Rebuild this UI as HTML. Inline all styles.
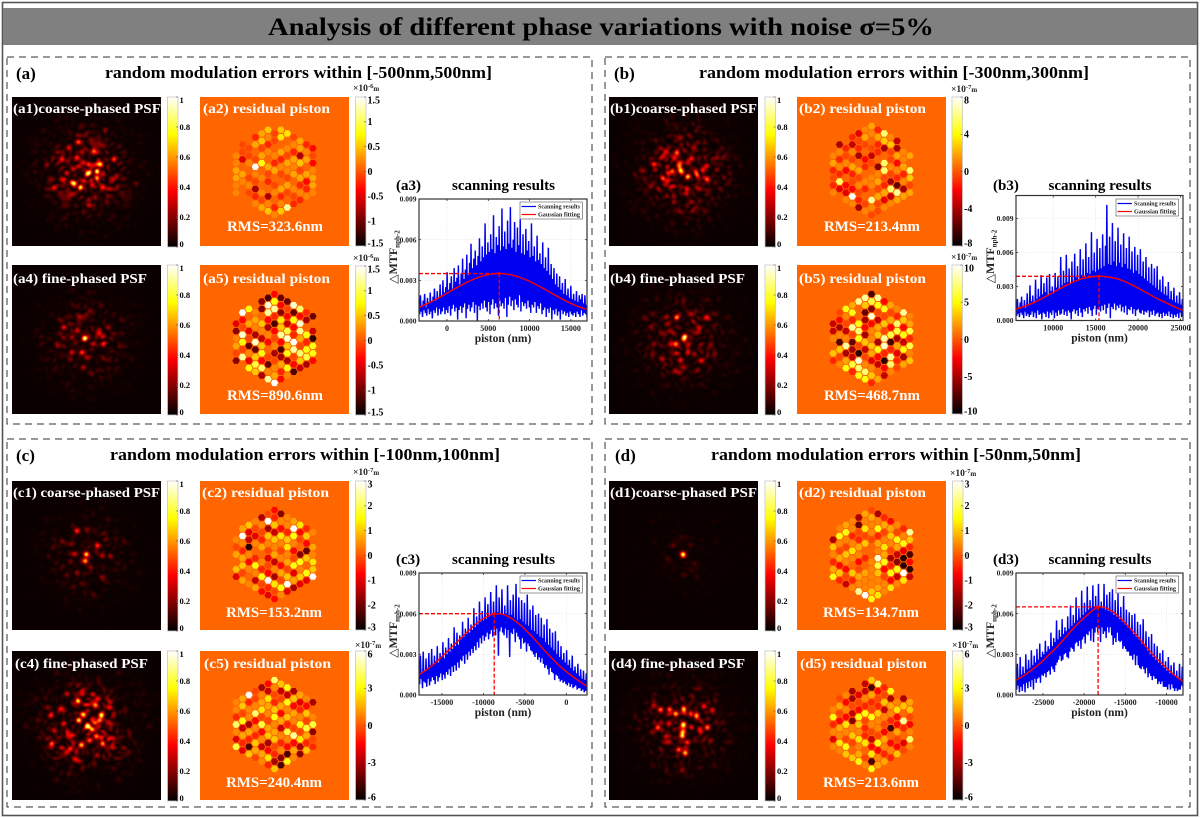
<!DOCTYPE html>
<html lang="en">
<head>
<meta charset="utf-8">
<title>Analysis of different phase variations with noise</title>
<style>
html,body{margin:0;padding:0;background:#fff;}
#figure{position:relative;width:1200px;height:818px;overflow:hidden;background:#fff;filter:blur(0.3px);}
#figure canvas{position:absolute;display:block;}
#figure svg{position:absolute;left:0;top:0;}
text{font-family:"Liberation Serif","DejaVu Serif","Noto Serif CJK SC",serif;font-weight:bold;}
</style>
</head>
<body>
<div id="figure">
<svg id="plot" width="1200" height="818" viewBox="0 0 1200 818" xmlns="http://www.w3.org/2000/svg">
<defs>
<linearGradient id="hotGrad" x1="0" y1="1" x2="0" y2="0">
<stop offset="0" stop-color="#000000"/><stop offset="0.05" stop-color="#220000"/><stop offset="0.375" stop-color="#ff0000"/><stop offset="0.75" stop-color="#ffff00"/><stop offset="1" stop-color="#ffffff"/>
</linearGradient>
</defs>
<rect x="2.5" y="2.5" width="1195" height="813" fill="none" stroke="#555" stroke-width="1.6"/>
<rect x="3" y="8" width="1194" height="37" fill="#808080"/>
<text x="268" y="35" font-size="25" textLength="666" lengthAdjust="spacingAndGlyphs" fill="#000">Analysis of different phase variations with noise σ=5%</text>
<rect x="7" y="57" width="585" height="367" fill="none" stroke="#333" stroke-width="1" stroke-dasharray="7 5"/>
<rect x="605" y="57" width="585" height="367" fill="none" stroke="#333" stroke-width="1" stroke-dasharray="7 5"/>
<rect x="7" y="439" width="585" height="368" fill="none" stroke="#333" stroke-width="1" stroke-dasharray="7 5"/>
<rect x="605" y="439" width="585" height="368" fill="none" stroke="#333" stroke-width="1" stroke-dasharray="7 5"/>
<text x="16" y="79" font-size="17" fill="#000">(a)</text>
<text x="105" y="78" font-size="16.5" textLength="387" lengthAdjust="spacingAndGlyphs" fill="#000">random modulation errors within [-500nm,500nm]</text>
<text x="614" y="79" font-size="17" fill="#000">(b)</text>
<text x="699" y="78" font-size="16.5" textLength="390" lengthAdjust="spacingAndGlyphs" fill="#000">random modulation errors within [-300nm,300nm]</text>
<text x="16" y="461" font-size="17" fill="#000">(c)</text>
<text x="110" y="460" font-size="16.5" textLength="390" lengthAdjust="spacingAndGlyphs" fill="#000">random modulation errors within [-100nm,100nm]</text>
<text x="615" y="461" font-size="17" fill="#000">(d)</text>
<text x="711" y="460" font-size="16.5" textLength="370" lengthAdjust="spacingAndGlyphs" fill="#000">random modulation errors within [-50nm,50nm]</text>
</svg>
</div>
<script>
// ---------- scan chart data (all ΔMTF values in units of 0.001) ----------
const yTickLabels = ['0.000','0.003','0.006','0.009'];
const yTickValues = [0,3,6,9];

const xTicksA3 = [0,5000,10000,15000];
const rangeA3 = [-3390,16950];
const scanA3 = [1.2,0.5,1.9,0.7,1.1,0.3,1.5,0.8,2.0,0.6,1.0,0.4,1.7,0.9,1.3,0.5,2.1,0.7,1.4,0.2,
1.8,0.8,2.4,0.6,1.5,1.0,2.2,0.4,1.7,0.9,2.7,0.5,1.9,0.7,3.0,1.0,2.1,0.5,2.5,0.8,
3.6,0.6,2.3,1.1,2.8,0.4,3.3,0.9,2.4,1.2,3.9,0.7,2.9,1.0,3.2,0.1,4.1,0.8,2.7,1.1,
3.5,0.6,4.6,1.0,3.1,1.3,3.8,0.2,4.9,0.9,3.4,1.2,4.3,0.7,5.7,1.0,3.9,1.4,4.6,0.6,
5.2,1.2,4.1,0.0,4.8,1.1,6.1,0.8,4.4,1.3,5.5,0.9,4.7,1.5,7.2,1.0,4.9,0.7,5.8,1.4,
5.1,0.5,6.4,1.2,5.3,1.6,7.8,0.9,5.0,1.3,6.2,1.0,5.6,0.4,7.0,1.5,5.2,1.1,8.3,1.3,
5.5,0.9,6.6,1.7,5.3,0.3,7.4,1.2,5.7,1.8,8.4,1.1,5.4,1.5,6.0,0.8,7.3,1.6,5.1,1.2,
6.9,1.0,5.6,1.9,7.5,0.7,5.0,1.4,6.4,1.1,4.9,1.3,6.8,0.9,5.2,1.5,5.9,1.0,4.7,0.6,
7.2,1.2,4.8,1.0,5.5,1.4,4.4,0.6,6.3,1.1,4.5,0.9,5.0,1.3,4.2,0.5,5.8,0.8,3.9,1.0,
4.7,0.3,3.7,0.9,5.4,0.6,3.4,1.0,4.2,0.1,3.1,0.8,3.9,0.5,2.7,0.9,3.5,0.4,2.5,0.7,
3.3,0.1,2.3,0.8,2.8,0.5,2.0,0.7,3.1,0.4,1.9,0.6,2.4,0.3,1.7,0.7,2.6,0.5,1.6,0.4,
2.0,0.6,1.5,0.3,2.2,0.7,1.4,0.5,1.9,0.3,1.6,0.8,2.0,0.4,1.3,0.6,1.9,0.5,1.2,0.3];
const fitA3 = [1.00,1.28,1.60,1.94,2.29,2.63,2.94,3.20,3.39,3.49,3.49,3.40,3.22,2.97,2.67,2.33,1.98,1.64,1.32,1.06,0.85];
const peakA3 = [6330,3.5];

const xTicksB3 = [10000,15000,20000,25000];
const rangeB3 = [5610,25300];
const scanB3 = [1.2,0.4,1.9,0.6,1.0,0.3,1.6,0.7,2.1,0.5,1.3,0.2,1.8,0.8,1.1,0.4,2.4,0.6,1.4,0.3,
3.1,0.5,1.7,0.8,2.2,0.3,1.5,0.7,3.6,0.2,1.9,0.9,2.8,0.5,2.1,0.6,4.0,0.1,2.3,0.7,
3.3,0.6,2.5,0.3,3.8,0.8,2.2,0.2,4.1,0.7,2.6,0.5,3.0,0.9,2.4,0.2,4.2,0.7,2.9,0.4,
3.9,0.9,2.8,0.5,5.6,0.6,3.1,1.0,4.4,0.5,3.3,0.8,5.8,0.4,3.4,0.9,4.6,0.7,3.2,0.1,
5.2,0.8,3.5,1.0,5.9,0.6,3.8,0.9,4.8,0.4,3.6,1.1,6.3,0.7,4.0,0.3,5.4,1.0,3.9,0.8,
6.8,1.1,4.2,0.6,5.6,1.2,4.1,0.9,7.8,0.4,4.4,1.0,6.0,1.3,4.3,0.5,7.2,1.0,4.5,1.2,
6.4,0.8,4.6,1.3,7.6,0.9,4.8,1.4,6.6,0.6,10.2,1.1,5.0,1.5,7.4,0.2,4.9,1.2,8.6,1.0,
5.2,1.5,7.0,0.9,4.8,1.3,8.2,1.1,5.1,1.4,6.7,0.8,4.7,1.2,7.7,0.7,5.0,1.3,6.4,0.5,
4.6,1.0,7.4,0.9,4.5,1.2,6.1,0.6,4.2,1.0,6.5,0.4,4.4,0.9,5.8,1.0,4.1,0.7,6.3,0.6,
3.9,0.9,5.2,0.5,3.7,0.8,5.6,0.7,3.5,0.9,4.7,0.3,3.3,0.8,5.0,0.5,3.1,0.9,4.6,0.4,
2.9,0.6,4.8,0.7,2.7,0.3,3.6,0.6,2.5,0.2,3.9,0.7,2.3,0.4,3.0,0.6,2.2,0.4,3.4,0.8,
1.9,0.3,2.6,0.6,1.8,0.2,2.9,0.5,1.6,0.3,2.2,0.6,1.5,0.2,2.5,0.7,1.4,0.3,1.9,0.4];
const fitB3 = [1.0,1.25,1.55,1.9,2.3,2.7,3.1,3.45,3.7,3.85,3.9,3.85,3.7,3.45,3.1,2.7,2.3,1.9,1.55,1.2,0.9];
const peakB3 = [15400,3.9];

const xTicksC3 = [-15000,-10000,-5000,0];
const rangeC3 = [-17770,2490];
const scanC3 = [1.9,0.8,2.9,1.2,1.6,0.5,3.2,1.0,1.8,0.9,2.7,0.6,2.0,1.2,3.1,0.7,2.2,1.0,3.4,1.3,
2.3,1.1,2.9,0.8,2.5,1.4,3.6,1.0,2.4,1.3,3.1,1.6,2.8,1.1,3.9,1.5,2.7,1.2,3.5,1.7,
3.0,1.5,4.2,1.9,3.2,1.4,3.8,2.1,3.4,1.7,5.0,2.2,3.6,1.8,4.6,2.4,3.7,2.0,4.4,2.6,
4.1,2.5,5.4,2.9,4.3,2.3,4.9,3.0,4.5,2.6,5.7,3.2,4.6,2.9,5.2,3.4,4.8,3.1,6.4,3.6,
5.0,3.3,5.8,3.9,5.2,3.5,6.9,4.2,5.4,3.8,6.2,4.4,5.5,4.0,7.2,4.3,5.6,4.6,6.7,4.1,
5.8,4.5,7.6,4.8,5.9,4.3,6.9,5.0,6.0,4.4,8.1,4.9,6.1,2.9,7.2,4.7,6.0,5.0,7.8,4.6,
5.9,4.4,6.6,4.9,6.0,4.2,8.1,4.8,5.9,2.8,7.0,4.6,5.9,4.5,7.4,4.9,5.7,3.9,8.2,4.6,
5.5,4.3,7.2,4.1,5.6,3.4,7.0,4.2,5.4,3.8,6.8,3.9,5.2,3.2,7.4,3.8,5.1,3.6,6.3,3.3,
4.8,3.2,6.6,3.0,4.7,2.8,5.9,3.1,4.5,2.6,6.0,2.8,4.3,2.4,5.7,2.7,4.2,2.3,5.2,2.0,
3.9,2.2,5.6,1.9,3.7,1.5,4.9,2.0,3.5,1.7,4.6,1.6,3.3,1.1,4.7,1.5,3.0,1.4,4.0,1.2,
2.8,1.0,3.6,1.1,2.6,0.9,3.1,1.0,2.4,0.8,3.3,0.7,2.2,0.9,2.6,0.6,2.0,0.8,2.9,0.5,
1.8,0.6,2.1,0.7,1.6,0.4,2.3,0.5,1.4,0.5,1.9,0.3,1.2,0.4,1.8,0.2,1.1,0.3,1.6,0.4];
const fitC3 = [1.5,1.9,2.4,3.0,3.6,4.2,4.8,5.35,5.75,5.98,5.95,5.65,5.2,4.6,3.95,3.25,2.6,2.0,1.5,1.05,0.65];
const peakC3 = [-8700,6.0];

const xTicksD3 = [-25000,-20000,-15000,-10000];
const rangeD3 = [-28270,-7990];
const scanD3 = [1.4,0.4,2.3,0.7,1.2,0.2,2.8,0.6,1.5,0.3,2.1,0.8,1.6,0.2,3.0,0.9,1.9,0.5,2.6,1.0,
2.0,0.6,3.3,1.1,2.2,0.4,2.9,1.2,2.4,0.9,3.4,1.2,2.6,1.3,3.8,0.9,2.8,1.5,3.2,1.4,
3.0,1.6,4.0,1.3,3.2,1.7,3.6,1.8,3.4,1.5,4.6,2.1,3.6,1.9,4.2,1.7,3.9,2.2,5.5,2.4,
4.1,2.6,4.8,2.9,4.3,2.5,5.6,2.6,4.5,3.0,5.0,3.1,4.7,2.8,5.8,2.7,4.9,3.2,6.6,3.5,
5.1,3.4,5.9,3.2,5.3,3.8,7.2,3.9,5.5,3.6,6.4,4.0,5.7,3.4,7.7,4.1,5.9,4.3,6.8,3.8,
6.1,4.5,8.0,4.4,6.3,4.7,7.0,4.0,6.4,4.9,8.1,3.9,6.5,4.6,7.3,5.0,6.5,4.6,8.2,4.9,
6.5,3.9,6.9,5.0,6.4,4.5,8.2,4.7,6.3,4.2,7.4,5.0,6.2,4.6,7.6,5.0,6.1,4.4,7.8,3.7,
5.9,4.2,7.0,3.9,5.8,4.6,7.5,4.0,5.6,3.9,6.5,4.0,5.4,3.4,7.3,3.6,5.2,3.4,6.3,3.2,
5.0,3.2,6.1,2.9,4.8,2.9,5.9,2.6,4.5,3.0,6.0,2.2,4.3,2.9,5.4,2.2,4.1,2.0,5.2,1.9,
3.8,2.1,5.6,1.9,3.6,1.6,4.7,2.0,3.3,1.3,4.3,1.6,3.0,1.4,4.5,1.1,2.8,1.4,3.8,1.2,
2.6,1.2,3.6,0.8,2.4,1.0,3.1,0.8,2.2,1.0,3.3,0.6,2.0,0.6,2.5,0.6,1.8,0.4,2.8,0.8,
1.6,0.4,2.2,0.8,1.5,0.5,2.4,0.3,1.4,0.5,1.8,0.3,1.2,0.4,2.3,0.4,1.1,0.7,2.1,0.6];
const fitD3 = [1.1,1.45,1.9,2.4,3.0,3.6,4.3,5.0,5.6,6.15,6.5,6.35,5.95,5.35,4.7,4.0,3.25,2.6,2.0,1.45,1.0];
const peakD3 = [-18300,6.5];

// ---------- residual piston maps: one inner array per segment column, values as tenths of colour-bar half-range ----------
const hexA2 = [[0,1,1,2,2,1,1],[-1,-1,-4,0,2,1,0,0],[0,-1,-1,1,0,-1,1,-1,0],[-2,2,0,-1,10,1,-1,-6,-2,1],[2,3,-1,2,5,0,1,0,1,-1,2],[3,1,-2,1,0,2,-1,-2,0,-6,1,3],[0,-1,-1,0,1,-2,2,0,-1,1,0,-2,1],[3,4,0,2,-2,1,-1,0,2,-2,1,3],[4,0,1,-1,2,1,-1,2,-1,0,8],[-1,1,-2,2,1,2,0,1,-1,-2],[2,2,-6,3,-1,2,-2,1,-2],[-2,1,2,0,2,-3,-2,1],[-3,-1,-3,1,2,2,1]];
const hexA5 = [[0,-4,-7,1,2,-1,-7],[10,-3,-1,9,5,-1,8,0],[5,0,2,-4,-1,-8,1,-4,5],[0,1,2,1,-6,9,-8,3,6,3],[-7,-7,0,3,1,-5,3,5,-3,7,-6],[-9,9,8,-3,-6,1,-3,0,-1,-8,1,8],[-3,5,8,-2,-9,-3,-1,1,-6,-1,1,2,10],[-8,-3,-7,4,3,8,-3,-9,-6,2,-2,-3],[-8,-1,-3,-5,6,9,3,5,-6,5,1],[9,-8,5,-3,-2,10,8,-1,-3,-9],[7,-3,9,8,2,-1,7,3,-5],[-2,-6,0,5,-2,5,6,-6],[-8,0,-5,-10,5,5,-3]];
const hexB2 = [[0,1,2,-2,-1,-2,1],[-6,1,-2,1,-2,7,-4,0],[0,-2,-1,1,-3,0,-3,-4,1],[-2,-5,1,-1,2,-2,-1,-3,10,1],[-4,-1,-2,-6,0,2,-1,1,-1,-2,-6],[1,2,-1,0,-3,-2,0,1,-2,0,-1,1],[2,1,0,-1,-5,-1,0,1,1,0,8,1,-1],[-2,2,-2,-2,0,-7,1,2,-1,2,-1,-1],[7,3,-6,0,7,7,-1,-2,2,-4,1],[1,3,-1,-1,1,-1,-6,7,-5,1],[-5,-6,2,-3,1,-2,-8,8,2],[0,1,1,2,-2,1,-6,2],[0,2,0,7,3,-1,2]];
const hexB5 = [[0,-5,-5,1,0,3,-2],[-1,-3,-6,1,-9,3,-1,1],[5,1,-1,-5,1,8,-6,2,5],[2,5,-2,8,-1,-8,-6,-5,6,-2],[8,0,0,5,7,5,-1,-10,9,7,5],[8,3,-8,-6,-3,-6,3,-5,-1,1,7,5],[-9,6,-7,9,-3,1,1,3,2,-4,1,3,-2],[8,5,-1,-5,2,3,-6,5,-3,-5,0,2],[-3,5,-1,3,-1,8,9,-2,-10,-3,-5],[2,-1,2,-3,6,-9,-2,8,7,1],[1,-2,7,6,-6,2,-4,-2,-1],[8,3,-3,5,-5,5,-6,2],[1,2,6,-2,6,1,3]];
const hexC2 = [[0,1,-1,2,0,3,-4],[2,10,1,-2,2,3,-1,2],[3,-4,-5,-10,1,-3,1,0,1],[1,-1,-4,1,0,-2,5,1,-5,2],[-6,1,-1,-2,2,0,1,-2,5,-1,-3],[-1,10,-6,3,1,-1,-4,-1,-3,10,-2,-4],[-3,-2,3,-5,3,1,2,-5,1,-6,4,-1,-3],[-7,1,-3,4,1,-1,1,-3,2,-1,5,1],[1,1,-2,3,4,1,2,-1,3,10,-4],[2,10,5,1,-3,-1,5,-4,2,-6],[4,-3,-1,0,-7,5,1,3,-4],[-2,3,-3,-8,3,0,5,-4],[1,0,2,1,4,3,10]];
const hexC5 = [[1,1,-2,7,1,-4,6],[2,3,-1,5,-5,2,-2,-4],[10,-2,1,1,-6,2,-2,-9,3],[-1,-1,1,7,-3,1,-2,3,2,-1],[-6,1,2,4,-1,6,-3,1,-5,2,1],[-3,-5,4,2,1,-1,2,3,-6,-3,4,-2],[7,1,-1,-2,3,5,1,2,3,-1,-2,-6,3],[3,-5,-1,2,-3,2,-5,1,-2,1,-7,-9],[5,-5,5,1,3,-2,6,1,-3,-9,5],[-6,3,-3,2,1,-1,8,-3,2,1],[2,-4,-2,1,5,-1,4,-6,-7],[1,-3,3,-1,6,2,-2,3],[-6,0,1,6,-7,-1,-2]];
const hexD2 = [[0,-6,3,1,-2,2,5],[1,5,1,-1,2,-3,3,-2],[2,5,1,-1,3,1,-3,-1,-5],[1,1,-2,1,4,1,0,3,-2,1],[-6,-8,-1,-2,2,1,-3,-1,2,1,8],[2,1,4,-1,3,0,-2,0,2,1,1,10],[-1,2,1,1,-1,0,0,1,1,1,1,3,5],[-6,1,5,-2,2,1,9,6,3,1,2,4],[-2,2,-1,1,4,2,5,-3,-1,1,1],[-3,2,3,1,-1,-6,-2,5,-3,4],[1,-1,5,2,-5,-7,5,-5,1],[-2,1,5,-4,-10,-10,10,4],[8,3,-2,-9,-3,-10,-5]];
const hexD5 = [[0,1,5,-2,1,-4,1],[-1,2,-1,-3,2,1,4,1],[1,-3,1,-3,4,1,-1,5,3],[-6,-6,-1,-5,-7,1,3,-1,0,3],[0,-4,-1,-3,5,3,1,4,1,2,5],[-5,-5,1,-2,5,-1,-2,-2,4,0,-1,1],[3,-9,2,-2,-1,5,1,-1,-5,-3,4,-9,5],[7,-3,-1,-2,3,1,1,-1,5,-3,1,2],[-2,-1,3,-5,1,-1,-3,2,1,-2,2],[5,-6,2,1,-2,-9,0,-3,1,-2],[0,1,4,-3,-3,2,-1,-3,3],[-6,3,0,8,-2,0,-4,-1],[2,3,-1,-3,1,7,1]];

// ---------- PSF speckles: [detector x, detector y, intensity], detector spans -224..224 ----------
const psfA1 = [[40,-23,.9],[5,2,.75],[30,17,.7],[-20,47,.8],[-45,32,.55],[-75,-38,.5],[-55,-73,.4],[-25,-91,.42],[-30,-43,.5],[5,-23,.5],[30,-3,.55],[50,47,.45],[-10,27,.4],[-70,27,.35],[20,-63,.4],[80,-38,.35],[90,12,.28],[-120,-23,.22],[-100,47,.28],[-45,67,.3],[5,99,.33],[25,77,.28],[45,7,.3],[-40,-10,.35],[15,40,.33],[-60,5,.28],[50,-80,.22],[-90,-60,.18],[60,90,.18],[-15,-60,.33]];
const psfA4 = [[-7,-6,.95],[-70,-38,.4],[-15,37,.5],[-45,37,.4],[-20,-68,.3],[40,-18,.35],[-70,-8,.2],[10,-88,.2],[65,-38,.25],[0,52,.3],[-45,-8,.3],[20,12,.3],[-30,-28,.35],[50,12,.2],[-90,12,.15],[-10,82,.2],[80,-18,.15]];
const psfB1 = [[-10,-5,.95],[12,14,.8],[-35,-1,.6],[-22,-58,.6],[22,-40,.5],[-90,-23,.45],[68,-18,.45],[70,22,.35],[10,52,.4],[-55,-63,.3],[-10,-28,.5],[-60,22,.35],[-100,42,.25],[40,47,.3],[-40,47,.3],[-15,117,.2],[100,-43,.2],[-10,-103,.25],[30,-73,.3],[-120,-3,.15],[35,-3,.35],[-30,87,.2]];
const psfB4 = [[3,-10,.95],[-22,-68,.65],[-25,12,.6],[53,62,.45],[-10,62,.4],[-65,57,.35],[-90,12,.25],[45,-38,.35],[-50,-48,.25],[20,-78,.3],[15,12,.3],[70,-68,.2],[-40,12,.35],[-100,-38,.15],[80,12,.2],[-10,97,.2],[30,42,.25],[-60,-18,.2]];
const psfC1 = [[-2,-5,.9],[-5,15,.8],[-30,-75,.5],[32,-31,.4],[-35,-7,.3],[45,-2,.3],[45,63,.2],[-60,58,.15],[-45,-37,.2],[0,-77,.2],[10,33,.2],[60,-52,.12],[-100,-27,.1],[-15,83,.12],[70,3,.1]];
const psfC4 = [[-25,-17,.85],[43,-32,.8],[-28,-75,.75],[25,-62,.7],[15,11,.7],[25,-10,.65],[28,30,.65],[47,53,.7],[-15,58,.6],[-105,53,.5],[-50,68,.5],[-45,28,.5],[-70,-7,.45],[-10,-37,.45],[-110,-32,.35],[10,43,.5],[70,-7,.35],[-80,-52,.4],[-35,98,.35],[70,-72,.35],[80,38,.25],[-60,-97,.3],[-10,-107,.2],[-100,13,.3],[30,88,.3]];
const psfD1 = [[-3,-5,1.0],[-32,-32,.15],[20,-32,.1],[-50,8,.1],[30,23,.1],[-5,-57,.08],[40,63,.07]];
const psfD4 = [[-2,-5,.95],[-5,30,.9],[-25,-37,.8],[-70,-49,.65],[-43,-49,.6],[0,-52,.7],[70,5,.65],[-78,5,.6],[5,80,.65],[-15,71,.6],[35,-32,.5],[60,-59,.5],[10,50,.45],[-45,-7,.4],[-5,18,.7],[-90,-61,.35],[85,-47,.3],[50,18,.35],[-55,33,.3],[20,-37,.4],[-5,133,.25],[-95,18,.25],[80,43,.2]];

// ---------- colour-bar tick labels ----------
const psfBarTicks = [1,0.8,0.6,0.4,0.2,0];
const barTicksA = ['1.5','1','0.5','0','-0.5','-1','-1.5'];
const barTicksB2 = ['8','4','0','-4','-8'];
const barTicksB5 = ['10','5','0','-5','-10'];
const barTicksC2 = ['3','2','1','0','-1','-2','-3'];
const barTicksC5 = ['6','3','0','-3','-6'];

// ---------- rendering ----------
const svg = document.getElementById('plot');
const figure = document.getElementById('figure');
const NS = 'http://www.w3.org/2000/svg';

function el(tag, attrs, parent){
  const n = document.createElementNS(NS, tag);
  for (const k in attrs) n.setAttribute(k, attrs[k]);
  (parent || svg).appendChild(n);
  return n;
}

function hot(t){
  t = Math.max(0, Math.min(1, t));
  const r = Math.min(1, 0.04 + t / 0.375 * 0.96);
  const g = Math.max(0, Math.min(1, (t - 0.375) / 0.375));
  const b = Math.max(0, Math.min(1, (t - 0.75) / 0.25));
  return [Math.round(r * 255), Math.round(g * 255), Math.round(b * 255)];
}

// PSF = far-field interference of the segmented pupil (pistons taken from the matching map) plus the bright speckles
function drawPSF(name, left, top, speckles, gain, pupil){
  const c = document.createElement('canvas');
  
  
  const S = 149;
  c.width = S; c.height = S;
  c.style.left = left + 'px';
  c.style.top = top + 'px';
  figure.insertBefore(c, svg);
  const ctx = c.getContext('2d');
  const img = ctx.createImageData(S, S);
  const toDet = 448 / S;
  const segX = [], segY = [], segP = [];
  pupil.forEach(function(col, ci){
    col.forEach(function(v, ri){
      segX.push(ci - 6);
      segY.push((ri - (col.length - 1) / 2) * 1.155);
      segP.push(v * 1.7 + 0.6);
    });
  });
  const k = 2 * Math.PI / 62;
  for (let j = 0; j < S; j++){
    for (let i = 0; i < S; i++){
      const px = i - S / 2, py = j - S / 2;
      const u = px * toDet, v = py * toDet;
      const env = Math.exp(-(px * px + py * py) / (2 * 27 * 27));
      let re = 0, im = 0;
      for (let s = 0; s < segX.length; s++){
        const ph = k * (px * segX[s] + py * segY[s]) + segP[s];
        re += Math.cos(ph);
        im += Math.sin(ph);
      }
      let val = gain * env * (re * re + im * im) / segX.length;
      for (let n = 0; n < speckles.length; n++){
        const sp = speckles[n];
        const du = u - sp[0], dv = v - sp[1];
        val += sp[2] * 0.85 * Math.exp(-(du * du + dv * dv) / (2 * 30));
      }
      const col = hot(val);
      const p = (j * S + i) * 4;
      img.data[p] = col[0];
      img.data[p + 1] = col[1];
      img.data[p + 2] = col[2];
      img.data[p + 3] = 255;
    }
  }
  ctx.putImageData(img, 0, 0);
}

function hexColor(v){
  const c = hot(0.525 + v * 0.0475);
  return 'rgb(' + c[0] + ',' + c[1] + ',' + c[2] + ')';
}

function drawHex(name, left, top, columns){
  const bg = el('rect', {x: left, y: top, width: 149, height: 149, fill: '#ff6600'});
  
  
  const g = el('g', {});
  
  
  const cx = left + 74.5;
  const cy = top + 73.5;
  const dx = 6.4, dy = 7.4, R = 3.7;
  columns.forEach(function(col, ci){
    const k = ci - 6;
    const x = cx + k * dx;
    const y0 = cy - (col.length - 1) * dy / 2;
    col.forEach(function(v, ri){
      if (v === 0) return;
      const y = y0 + ri * dy;
      const pts = [];
      for (let a = 0; a < 6; a++){
        const th = a * Math.PI / 3;
        pts.push((x + R * Math.cos(th)).toFixed(2) + ',' + (y + R * Math.sin(th)).toFixed(2));
      }
      const h = el('polygon', {points: pts.join(' '), fill: hexColor(v)}, g);
      
      
    });
  });
}

function label(name, x, y, str, size, fill, length){
  const attrs = {x: x, y: y, 'font-size': size, fill: fill};
  if (length){
    attrs.textLength = length;
    attrs.lengthAdjust = 'spacingAndGlyphs';
  }
  const t = el('text', attrs);
  t.textContent = str;
  
  
  return t;
}

function drawBar(name, left, top, height, ticks, fontSize){
  const w = 10.5;
  const r = el('rect', {x: left, y: top, width: w, height: height, fill: 'url(#hotGrad)', stroke: '#c8c8c8', 'stroke-width': 0.8});
  
  
  const n = ticks.length;
  ticks.forEach(function(tk, i){
    const f = i / (n - 1);
    const y = top + f * height;
    const t1 = el('line', {x1: left + w - 2, x2: left + w, y1: y, y2: y, stroke: '#555', 'stroke-width': 0.6});
    
    
    const ly = Math.min(top + height - 3, Math.max(top + 3, y));
    label(name + '-tick-label', left + w + 1.5, ly + fontSize * 0.34, String(tk), fontSize, '#000');
  });
}

function drawExponent(name, x, y, exp){
  const t = el('text', {x: x, y: y, 'font-size': 9.5, fill: '#222'});
  
  
  const a = el('tspan', {}, t);
  a.textContent = '×10';
  const b = el('tspan', {dy: -3, 'font-size': 6.5}, t);
  b.textContent = exp;
  const c = el('tspan', {dy: 3, 'font-size': 7}, t);
  c.textContent = 'm';
}

let clipCount = 0;

function drawChart(id, box, range, xTicks, scan, fit, peak, yMax, heading){
  const xScale = function(v){ return box.l + (v - range[0]) / (range[1] - range[0]) * (box.r - box.l); };
  const yScale = function(v){ return box.b - v / yMax * (box.b - box.t); };

  const g = el('g', {});
  
  

  const bg = el('rect', {x: box.l, y: box.t, width: box.r - box.l, height: box.b - box.t, fill: '#fff'}, g);
  
  

  xTicks.forEach(function(v){
    const gl = el('line', {x1: xScale(v), x2: xScale(v), y1: box.t, y2: box.b, stroke: '#dddddd', 'stroke-width': 0.6, 'stroke-dasharray': '1 1.5'}, g);
    
    
  });
  yTickValues.forEach(function(v){
    const gl = el('line', {x1: box.l, x2: box.r, y1: yScale(v), y2: yScale(v), stroke: '#dddddd', 'stroke-width': 0.6, 'stroke-dasharray': '1 1.5'}, g);
    
    
  });

  clipCount++;
  const cp = el('clipPath', {id: 'clip' + clipCount}, g);
  el('rect', {x: box.l, y: box.t, width: box.r - box.l, height: box.b - box.t}, cp);

  const scanPts = scan.map(function(v, i){
    const px = range[0] + (range[1] - range[0]) * i / (scan.length - 1);
    return xScale(px).toFixed(2) + ',' + yScale(v).toFixed(2);
  }).join(' ');
  const sl = el('polyline', {points: scanPts, fill: 'none', stroke: '#0000f0', 'stroke-width': 1.45, 'stroke-linejoin': 'bevel', 'clip-path': 'url(#clip' + clipCount + ')'}, g);
  
  

  const hd = el('line', {x1: box.l, x2: xScale(peak[0]), y1: yScale(peak[1]), y2: yScale(peak[1]), stroke: '#ff0000', 'stroke-width': 1.3, 'stroke-dasharray': '4 2'}, g);
  
  
  const vd = el('line', {x1: xScale(peak[0]), x2: xScale(peak[0]), y1: yScale(peak[1]), y2: box.b, stroke: '#ff0000', 'stroke-width': 1.3, 'stroke-dasharray': '4 2'}, g);
  
  

  const fitPts = fit.map(function(v, i){
    const px = range[0] + (range[1] - range[0]) * i / (fit.length - 1);
    return [xScale(px), yScale(v)];
  });
  let d = 'M' + fitPts[0][0].toFixed(2) + ' ' + fitPts[0][1].toFixed(2);
  for (let i = 0; i < fitPts.length - 1; i++){
    const p0 = fitPts[Math.max(0, i - 1)], p1 = fitPts[i], p2 = fitPts[i + 1], p3 = fitPts[Math.min(fitPts.length - 1, i + 2)];
    d += 'C' + (p1[0] + (p2[0] - p0[0]) / 6).toFixed(2) + ' ' + (p1[1] + (p2[1] - p0[1]) / 6).toFixed(2) + ' ' +
         (p2[0] - (p3[0] - p1[0]) / 6).toFixed(2) + ' ' + (p2[1] - (p3[1] - p1[1]) / 6).toFixed(2) + ' ' +
         p2[0].toFixed(2) + ' ' + p2[1].toFixed(2);
  }
  const fl = el('path', {d: d, fill: 'none', stroke: '#ff0000', 'stroke-width': 1.4}, g);
  
  

  const dot = el('circle', {cx: xScale(peak[0]), cy: yScale(peak[1]), r: 1.5, fill: '#ff0000'}, g);
  
  

  const frame = el('rect', {x: box.l, y: box.t, width: box.r - box.l, height: box.b - box.t, fill: 'none', stroke: '#333', 'stroke-width': 1.2}, g);
  
  

  xTicks.forEach(function(v){
    const tk = el('line', {x1: xScale(v), x2: xScale(v), y1: box.b, y2: box.b - 2, stroke: '#333', 'stroke-width': 0.8}, g);
    
    
    const tk2 = el('line', {x1: xScale(v), x2: xScale(v), y1: box.t, y2: box.t + 2, stroke: '#333', 'stroke-width': 0.8}, g);
    
    
    const tl = label('x-tick-label', xScale(v), box.b + 10, String(v), 8, '#222');
    tl.setAttribute('text-anchor', 'middle');
  });
  yTickValues.forEach(function(v, i){
    const tk = el('line', {x1: box.l, x2: box.l + 2, y1: yScale(v), y2: yScale(v), stroke: '#333', 'stroke-width': 0.8}, g);
    
    
    const tk2 = el('line', {x1: box.r, x2: box.r - 2, y1: yScale(v), y2: yScale(v), stroke: '#333', 'stroke-width': 0.8}, g);
    
    
    const tl = label('y-tick-label', box.l - 2.5, yScale(v) + 2.7, yTickLabels[i], 7.5, '#222');
    tl.setAttribute('text-anchor', 'end');
  });

  // legend
  const lx = box.r - 67, ly = box.legendTop;
  const lb = el('rect', {x: lx, y: ly, width: 62.5, height: 17, fill: '#fff', stroke: '#555', 'stroke-width': 0.6}, g);
  
  
  const l1 = el('line', {x1: lx + 1.5, x2: lx + 16, y1: ly + 4.5, y2: ly + 4.5, stroke: '#0000f0', 'stroke-width': 1.2}, g);
  
  
  label('legend-scanning-label', lx + 18, ly + 6.5, 'Scanning results', 6, '#222', 42);
  const l2 = el('line', {x1: lx + 1.5, x2: lx + 16, y1: ly + 12.5, y2: ly + 12.5, stroke: '#ff0000', 'stroke-width': 1.2}, g);
  
  
  label('legend-gaussian-label', lx + 18, ly + 14.5, 'Gaussian fitting', 6, '#222', 42);

  // titles
  const cxm = (box.l + box.r) / 2;
  const xl = label(id + '-x-axis-title', cxm, box.b + 21, 'piston (nm)', 11.5, '#222');
  xl.setAttribute('text-anchor', 'middle');
  label(id + '-panel-label', heading.labelX, box.headY, heading.label, 15, '#000');
  label(id + '-chart-title', cxm - 51, box.headY, 'scanning results', 14.5, '#000', 103);

  const yl = el('text', {x: 0, y: 0, 'font-size': 12, fill: '#222', transform: 'translate(' + (box.l - 22) + ',' + (box.b - 64) + ') rotate(-90)', 'text-anchor': 'middle'}, g);
  
  
  const y1 = el('tspan', {}, yl);
  y1.textContent = '△MTF';
  const y2 = el('tspan', {dy: 2.5, 'font-size': 7}, yl);
  y2.textContent = 'nph-2';
}

// PSF images
drawPSF('psf-a1-image', 12, 97, psfA1, .11, hexA2);
drawPSF('psf-a4-image', 12, 265, psfA4, .06, hexA5);
drawPSF('psf-b1-image', 609, 97, psfB1, .11, hexB2);
drawPSF('psf-b4-image', 609, 265, psfB4, .08, hexB5);
drawPSF('psf-c1-image', 12, 481, psfC1, .04, hexC2);
drawPSF('psf-c4-image', 12, 651, psfC4, .13, hexC5);
drawPSF('psf-d1-image', 609, 481, psfD1, .012, hexD2);
drawPSF('psf-d4-image', 609, 651, psfD4, .08, hexD5);

// Residual piston maps
drawHex('piston-a2', 200, 97, hexA2);
drawHex('piston-a5', 200, 265, hexA5);
drawHex('piston-b2', 797, 97, hexB2);
drawHex('piston-b5', 797, 265, hexB5);
drawHex('piston-c2', 200, 481, hexC2);
drawHex('piston-c5', 200, 651, hexC5);
drawHex('piston-d2', 797, 481, hexD2);
drawHex('piston-d5', 797, 651, hexD5);

// Colour bars
drawBar('colorbar-a1', 167.5, 97, 150, psfBarTicks, 8.5);
drawBar('colorbar-a4', 167.5, 265, 150, psfBarTicks, 8.5);
drawBar('colorbar-b1', 765, 97, 150, psfBarTicks, 8.5);
drawBar('colorbar-b4', 765, 265, 150, psfBarTicks, 8.5);
drawBar('colorbar-c1', 167.5, 481, 150, psfBarTicks, 8.5);
drawBar('colorbar-c4', 167.5, 651, 150, psfBarTicks, 8.5);
drawBar('colorbar-d1', 765, 481, 150, psfBarTicks, 8.5);
drawBar('colorbar-d4', 765, 651, 150, psfBarTicks, 8.5);
drawBar('colorbar-a2', 355.5, 97, 149, barTicksA, 10);
drawBar('colorbar-a5', 355.5, 266, 149, barTicksA, 10);
drawBar('colorbar-b2', 952, 97, 149, barTicksB2, 10);
drawBar('colorbar-b5', 952, 265, 149, barTicksB5, 10);
drawBar('colorbar-c2', 355.5, 481, 149, barTicksC2, 10);
drawBar('colorbar-c5', 355.5, 651, 149, barTicksC5, 10);
drawBar('colorbar-d2', 952.5, 481, 149, barTicksC2, 10);
drawBar('colorbar-d5', 952.5, 651, 149, barTicksC5, 10);

drawExponent('colorbar-a2-exponent', 353, 91, '-6');
drawExponent('colorbar-a5-exponent', 353, 261, '-6');
drawExponent('colorbar-b2-exponent', 951, 92, '-7');
drawExponent('colorbar-b5-exponent', 951, 260, '-7');
drawExponent('colorbar-c2-exponent', 353, 475, '-7');
drawExponent('colorbar-c5-exponent', 355, 648, '-7');
drawExponent('colorbar-d2-exponent', 950, 476, '-7');
drawExponent('colorbar-d5-exponent', 952, 648, '-7');

// Image labels
label('psf-a1-title', 13, 113, '(a1)coarse-phased PSF', 14, '#fff', 148);
label('piston-a2-title', 203, 113, '(a2)  residual piston', 14, '#fff', 127);
label('piston-a2-rms', 227, 231, 'RMS=323.6nm', 14.5, '#fff', 96);
label('psf-a4-title', 13, 283, '(a4) fine-phased PSF', 14, '#fff', 134);
label('piston-a5-title', 203, 283, '(a5)  residual piston', 14, '#fff', 127);
label('piston-a5-rms', 227, 400, 'RMS=890.6nm', 14.5, '#fff', 96);

label('psf-b1-title', 610, 113, '(b1)coarse-phased PSF', 14, '#fff', 147);
label('piston-b2-title', 799, 113, '(b2)  residual piston', 14, '#fff', 127);
label('piston-b2-rms', 824, 231, 'RMS=213.4nm', 14.5, '#fff', 96);
label('psf-b4-title', 610, 283, '(b4)  fine-phased PSF', 14, '#fff', 135);
label('piston-b5-title', 799, 283, '(b5)  residual piston', 14, '#fff', 127);
label('piston-b5-rms', 824, 400, 'RMS=468.7nm', 14.5, '#fff', 96);

label('psf-c1-title', 13, 497, '(c1) coarse-phased PSF', 14, '#fff', 147);
label('piston-c2-title', 202, 497, '(c2)  residual piston', 14, '#fff', 127);
label('piston-c2-rms', 226, 617, 'RMS=153.2nm', 14.5, '#fff', 96);
label('psf-c4-title', 15, 668, '(c4)  fine-phased PSF', 14, '#fff', 133);
label('piston-c5-title', 204, 668, '(c5)  residual piston', 14, '#fff', 127);
label('piston-c5-rms', 226, 787, 'RMS=240.4nm', 14.5, '#fff', 96);

label('psf-d1-title', 610, 497, '(d1)coarse-phased PSF', 14, '#fff', 147);
label('piston-d2-title', 799, 497, '(d2)  residual piston', 14, '#fff', 127);
label('piston-d2-rms', 823, 617, 'RMS=134.7nm', 14.5, '#fff', 96);
label('psf-d4-title', 611, 668, '(d4) fine-phased PSF', 14, '#fff', 134);
label('piston-d5-title', 800, 668, '(d5)  residual piston', 14, '#fff', 127);
label('piston-d5-rms', 823, 787, 'RMS=213.6nm', 14.5, '#fff', 96);

// Scan charts
drawChart('a3', {l: 419, r: 587, t: 199, b: 321, legendTop: 202, headY: 190}, rangeA3, xTicksA3, scanA3, fitA3, peakA3, 9, {label: '(a3)', labelX: 396});
drawChart('b3', {l: 1016, r: 1183, t: 195.5, b: 320.5, legendTop: 199, headY: 190}, rangeB3, xTicksB3, scanB3, fitB3, peakB3, 11.03, {label: '(b3)', labelX: 993});
drawChart('c3', {l: 419, r: 587, t: 573, b: 695, legendTop: 576, headY: 564}, rangeC3, xTicksC3, scanC3, fitC3, peakC3, 9, {label: '(c3)', labelX: 396});
drawChart('d3', {l: 1016, r: 1183, t: 573, b: 695, legendTop: 576, headY: 564}, rangeD3, xTicksD3, scanD3, fitD3, peakD3, 9, {label: '(d3)', labelX: 993});
</script>
</body>
</html>
